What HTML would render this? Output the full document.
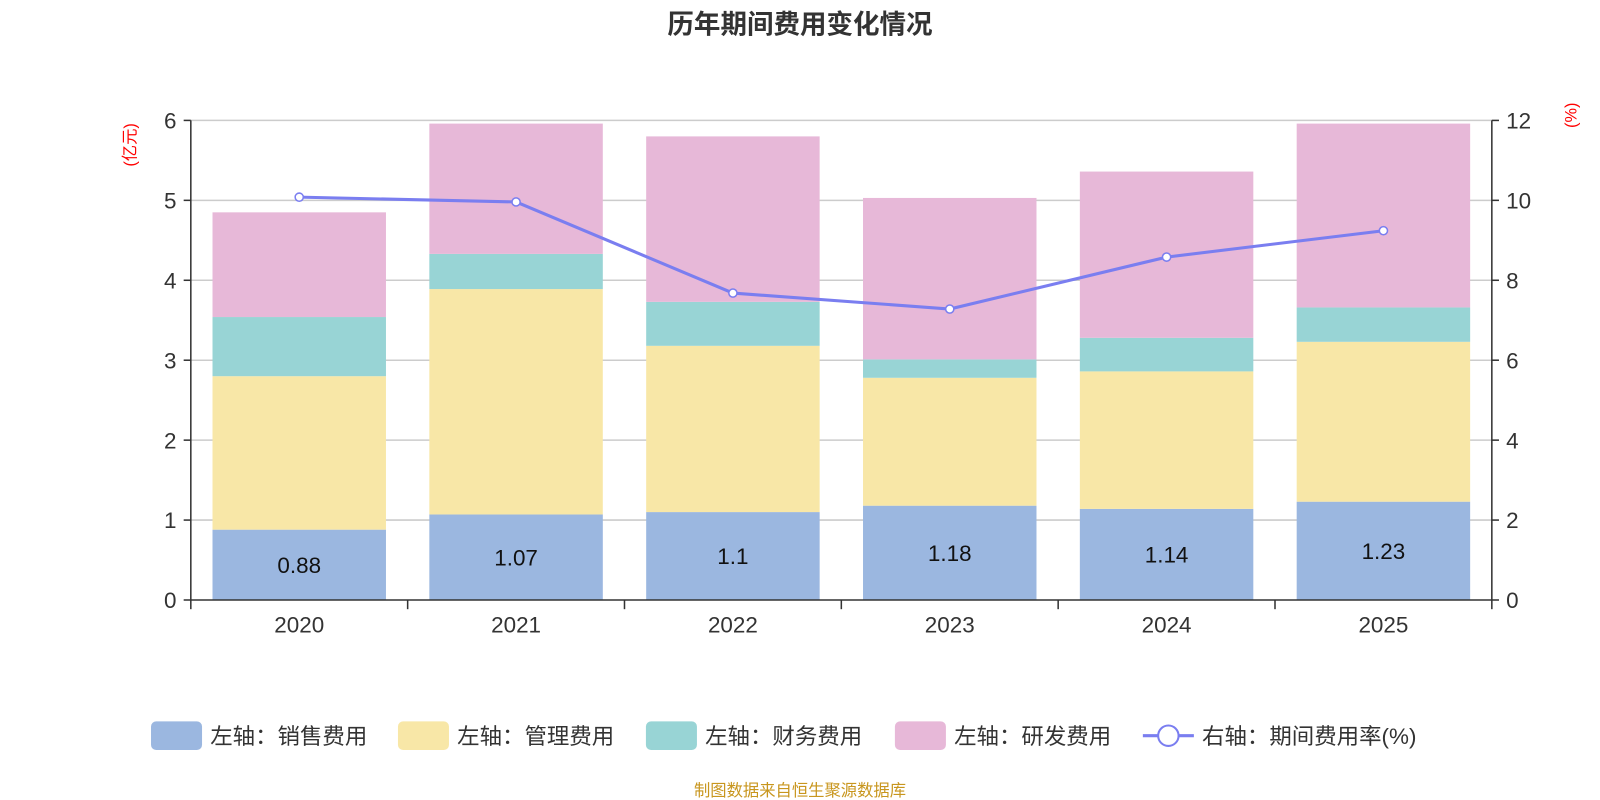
<!DOCTYPE html>
<html><head><meta charset="utf-8"><style>
body{margin:0;background:#fff;width:1600px;height:800px;overflow:hidden;font-family:"Liberation Sans","Noto Sans CJK SC",sans-serif}
svg{display:block}
</style></head><body>
<svg id="chart" width="1600" height="800" viewBox="0 0 1568 784" xmlns="http://www.w3.org/2000/svg" font-family="'Liberation Sans','Noto Sans CJK SC',sans-serif">
<text x="784" y="33" text-anchor="middle" font-size="26" font-weight="bold" fill="#333">历年期间费用变化情况</text>
<text transform="translate(133,142) rotate(-90)" text-anchor="middle" font-size="16" fill="#f00">(亿元)</text>
<text transform="translate(1545,113) rotate(-90)" text-anchor="middle" font-size="16" fill="#f00">(%)</text>
<g id="grid"></g><g id="bars"></g><g id="axes"></g><g id="line"></g>
<g font-size="22" fill="#333">
<g><rect x="148" y="707" width="50" height="28" rx="5" fill="#9bb7e0"/><text x="206" y="729">左轴：销售费用</text></g>
<g><rect x="390" y="707" width="50" height="28" rx="5" fill="#f8e7a7"/><text x="448" y="729">左轴：管理费用</text></g>
<g><rect x="633" y="707" width="50" height="28" rx="5" fill="#98d4d5"/><text x="691" y="729">左轴：财务费用</text></g>
<g><rect x="877" y="707" width="50" height="28" rx="5" fill="#e7b8d8"/><text x="935" y="729">左轴：研发费用</text></g>
<g><line x1="1120" y1="721" x2="1170" y2="721" stroke="#7a7ef0" stroke-width="3"/><circle cx="1145" cy="721" r="10" fill="#fff" stroke="#7a7ef0" stroke-width="2"/><text x="1178" y="729">右轴：期间费用率(%)</text></g>
</g>
<text x="784" y="780" text-anchor="middle" font-size="16" fill="#c8961e">制图数据来自恒生聚源数据库</text>
</svg>
<script>
const years=["2020","2021","2022","2023","2024","2025"];
const sales=[0.88,1.07,1.1,1.18,1.14,1.23];
const admin=[1.92,2.82,2.08,1.60,1.72,2.00];
const finance=[0.74,0.44,0.55,0.23,0.42,0.43];
const rd=[1.31,1.63,2.07,2.02,2.08,2.30];
const rate=[10.08,9.96,7.68,7.28,8.58,9.24];
const leftTicks=[0,1,2,3,4,5,6];
const rightTicks=[0,2,4,6,8,10,12];
const NS="http://www.w3.org/2000/svg";
const x0=187,x1=1462,yB=588,yT=118;
const band=(x1-x0)/years.length;
const yL=v=>yB-(v/6)*(yB-yT);
const yR=v=>yB-(v/12)*(yB-yT);
const xc=i=>x0+band*(i+0.5);
function mk(tag,attrs,parent,text){const e=document.createElementNS(NS,tag);for(const k in attrs)e.setAttribute(k,attrs[k]);if(text!==undefined)e.textContent=text;document.getElementById(parent).appendChild(e);return e;}
leftTicks.forEach((t,i)=>{
  const y=yL(t);
  if(t>0){const g=mk('line',{x1:x0,x2:x1,y1:y,y2:y,stroke:'#ccc','stroke-width':1.5},'grid');
  
  }
  const l=mk('text',{x:x0-14,y:y+8,'text-anchor':'end','font-size':22,fill:'#333'},'axes',t);
  
  
  mk('line',{x1:x0-7,x2:x0,y1:y,y2:y,stroke:'#333','stroke-width':1.5},'axes');
});
rightTicks.forEach(t=>{
  const y=yR(t);
  const l=mk('text',{x:x1+14,y:y+8,'font-size':22,fill:'#333'},'axes',t);
  
  
  mk('line',{x1:x1,x2:x1+7,y1:y,y2:y,stroke:'#333','stroke-width':1.5},'axes');
});
mk('line',{x1:x0,x2:x0,y1:yT,y2:yB,stroke:'#333','stroke-width':1.5},'axes');
mk('line',{x1:x1,x2:x1,y1:yT,y2:yB,stroke:'#333','stroke-width':1.5},'axes');
mk('line',{x1:x0,x2:x1,y1:yB,y2:yB,stroke:'#333','stroke-width':1.5},'axes');
for(let i=0;i<=years.length;i++){const x=x0+band*i;mk('line',{x1:x,x2:x,y1:yB,y2:yB+9,stroke:'#333','stroke-width':1.5},'axes');}
const bw=170;
const series=[[sales,'#9bb7e0','bar-sales'],[admin,'#f8e7a7','bar-admin'],[finance,'#98d4d5','bar-finance'],[rd,'#e7b8d8','bar-rd']];
years.forEach((yr,i)=>{
  let base=0;
  series.forEach(([arr,c,n])=>{
    const top=base+arr[i];
    const r=mk('rect',{x:xc(i)-bw/2,y:yL(top),width:bw,height:yL(base)-yL(top),fill:c},'bars');
    
    
    base=top;
  });
  const v=mk('text',{x:xc(i),y:(yL(0)+yL(sales[i]))/2+8,'text-anchor':'middle','font-size':22,fill:'#111'},'bars',sales[i]);
  
  
  const xl=mk('text',{x:xc(i),y:yB+32,'text-anchor':'middle','font-size':22,fill:'#333'},'axes',yr);
  
  
});
const pts=rate.map((v,i)=>xc(i)+','+yR(v)).join(' ');
const pl=mk('polyline',{points:pts,fill:'none',stroke:'#7a7ef0','stroke-width':3},'line');


rate.forEach((v,i)=>{
  const c=mk('circle',{cx:xc(i),cy:yR(v),r:4,fill:'#fff',stroke:'#7a7ef0','stroke-width':1.5},'line');
  
  
});
</script>
</body></html>
